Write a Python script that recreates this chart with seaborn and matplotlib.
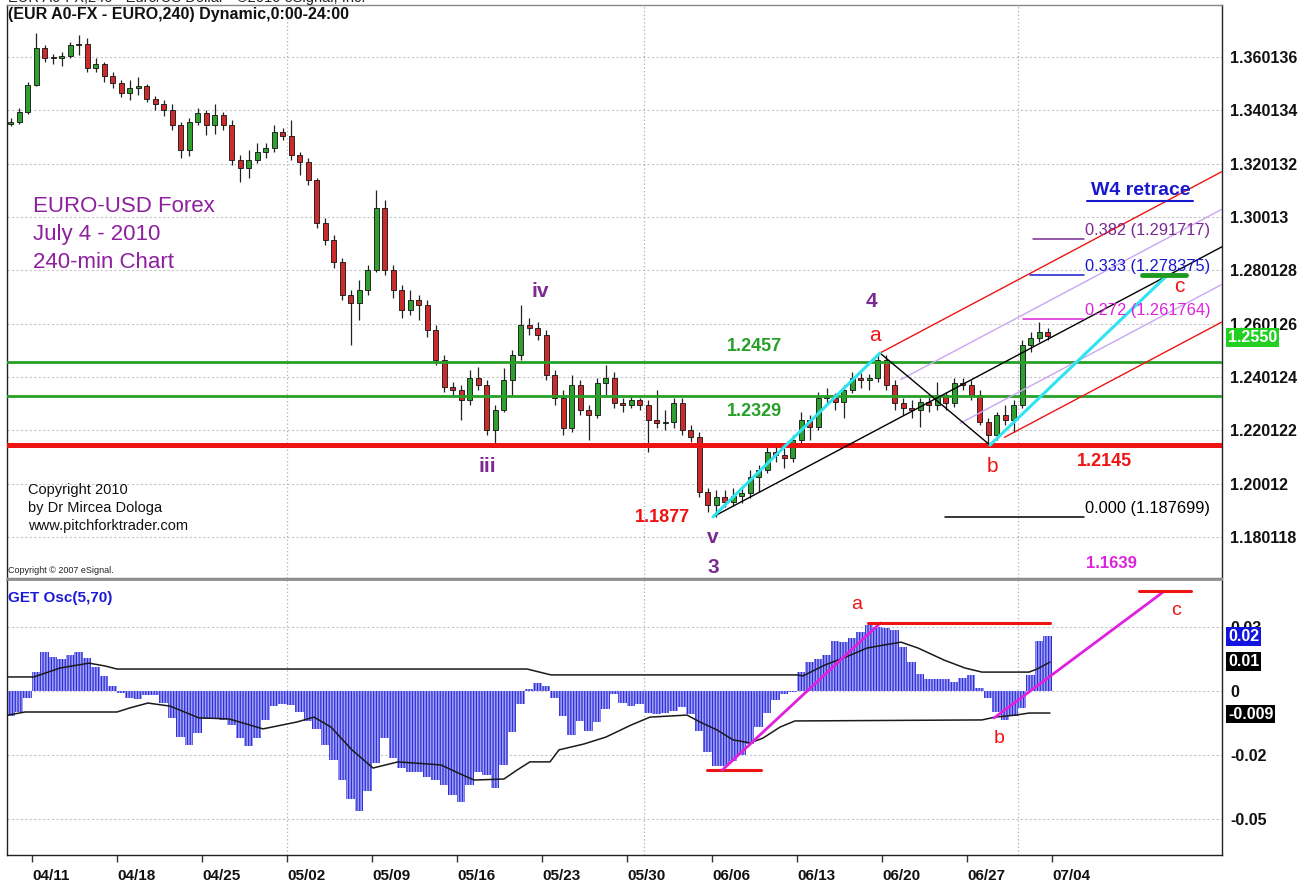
import numpy as np
import matplotlib
matplotlib.use("Agg")
import matplotlib.pyplot as plt
import seaborn as sns

# ---------------- data ----------------
week_labels = ['04/11', '04/18', '04/25', '05/02', '05/09', '05/16', '05/23',
               '05/30', '06/06', '06/13', '06/20', '06/27', '07/04']

open_ = [1.3350, 1.3358, 1.3395, 1.3496, 1.3635, 1.3598, 1.3598, 1.3605, 1.3646, 1.3650,
         1.3560, 1.3575, 1.3530, 1.3504, 1.3466, 1.3485, 1.3493, 1.3444, 1.3425, 1.3403,
         1.3346, 1.3253, 1.3358, 1.3391, 1.3346, 1.3384, 1.3346, 1.3215, 1.3185, 1.3215,
         1.3245, 1.3260, 1.3320, 1.3305, 1.3234, 1.3208, 1.3140, 1.2979, 1.2915, 1.2833,
         1.2709, 1.2679, 1.2728, 1.2803, 1.3035, 1.2803, 1.2728, 1.2653, 1.2690, 1.2671,
         1.2578, 1.2465, 1.2364, 1.2353, 1.2315, 1.2398, 1.2371, 1.2203, 1.2278, 1.2390,
         1.2484, 1.2596, 1.2585, 1.2559, 1.2409, 1.2323, 1.2210, 1.2371, 1.2278, 1.2259,
         1.2379, 1.2398, 1.2304, 1.2296, 1.2315, 1.2296, 1.2240, 1.2229, 1.2233, 1.2304,
         1.2203, 1.2176, 1.1970, 1.1921, 1.1951, 1.1933, 1.1955, 1.1966, 1.2026, 1.2053,
         1.2120, 1.2109, 1.2098, 1.2165, 1.2240, 1.2214, 1.2323, 1.2323, 1.2308, 1.2353,
         1.2398, 1.2390, 1.2398, 1.2465, 1.2371, 1.2304, 1.2285, 1.2278, 1.2308, 1.2296,
         1.2334, 1.2304, 1.2379, 1.2371, 1.2334, 1.2233, 1.2184, 1.2259, 1.2240, 1.2296,
         1.2521, 1.2548, 1.2570]
high = [1.3373, 1.3410, 1.3508, 1.3691, 1.3646, 1.3613, 1.3620, 1.3658, 1.3684, 1.3673,
        1.3598, 1.3583, 1.3545, 1.3515, 1.3515, 1.3526, 1.3500, 1.3455, 1.3440, 1.3425,
        1.3358, 1.3373, 1.3410, 1.3403, 1.3425, 1.3395, 1.3365, 1.3234, 1.3253, 1.3279,
        1.3279, 1.3346, 1.3335, 1.3365, 1.3245, 1.3223, 1.3148, 1.2998, 1.2934, 1.2848,
        1.2728, 1.2765, 1.2821, 1.3103, 1.3065, 1.2821, 1.2746, 1.2728, 1.2709, 1.2690,
        1.2596, 1.2484, 1.2383, 1.2371, 1.2428, 1.2439, 1.2390, 1.2296, 1.2435, 1.2503,
        1.2671, 1.2623, 1.2608, 1.2578, 1.2428, 1.2353, 1.2409, 1.2390, 1.2296, 1.2398,
        1.2446, 1.2420, 1.2323, 1.2334, 1.2323, 1.2315, 1.2353, 1.2278, 1.2323, 1.2323,
        1.2221, 1.2195, 1.1985, 1.1978, 1.1978, 1.1985, 1.1993, 1.2053, 1.2071, 1.2146,
        1.2146, 1.2135, 1.2184, 1.2270, 1.2259, 1.2345, 1.2360, 1.2341, 1.2371, 1.2420,
        1.2416, 1.2413, 1.2491, 1.2484, 1.2390, 1.2323, 1.2315, 1.2323, 1.2330, 1.2383,
        1.2345, 1.2398, 1.2398, 1.2390, 1.2353, 1.2248, 1.2270, 1.2296, 1.2315, 1.2540,
        1.2570, 1.2608, 1.2585]
low = [1.3343, 1.3350, 1.3388, 1.3493, 1.3583, 1.3575, 1.3568, 1.3598, 1.3609, 1.3545,
       1.3545, 1.3508, 1.3485, 1.3451, 1.3440, 1.3459, 1.3433, 1.3403, 1.3380, 1.3328,
       1.3223, 1.3230, 1.3346, 1.3309, 1.3313, 1.3328, 1.3196, 1.3133, 1.3148, 1.3204,
       1.3223, 1.3245, 1.3290, 1.3215, 1.3159, 1.3121, 1.2960, 1.2896, 1.2810, 1.2690,
       1.2521, 1.2615, 1.2709, 1.2795, 1.2784, 1.2698, 1.2623, 1.2634, 1.2615, 1.2551,
       1.2446, 1.2345, 1.2334, 1.2240, 1.2296, 1.2353, 1.2184, 1.2146, 1.2270, 1.2334,
       1.2465, 1.2559, 1.2540, 1.2390, 1.2296, 1.2184, 1.2195, 1.2259, 1.2165, 1.2248,
       1.2334, 1.2285, 1.2270, 1.2285, 1.2278, 1.2120, 1.2210, 1.2203, 1.2210, 1.2184,
       1.2158, 1.1951, 1.1895, 1.1876, 1.1914, 1.1918, 1.1929, 1.1948, 1.1970, 1.2041,
       1.2083, 1.2060, 1.2083, 1.2146, 1.2165, 1.2203, 1.2296, 1.2278, 1.2248, 1.2341,
       1.2360, 1.2353, 1.2383, 1.2353, 1.2278, 1.2259, 1.2248, 1.2214, 1.2270, 1.2278,
       1.2278, 1.2289, 1.2353, 1.2315, 1.2221, 1.2154, 1.2165, 1.2221, 1.2195, 1.2285,
       1.2495, 1.2533, 1.2540]
close = [1.3358, 1.3395, 1.3496, 1.3635, 1.3598, 1.3598, 1.3605, 1.3646, 1.3650, 1.3560,
         1.3575, 1.3530, 1.3504, 1.3466, 1.3485, 1.3493, 1.3444, 1.3425, 1.3403, 1.3346,
         1.3253, 1.3358, 1.3391, 1.3346, 1.3384, 1.3346, 1.3215, 1.3185, 1.3215, 1.3245,
         1.3260, 1.3320, 1.3305, 1.3234, 1.3208, 1.3140, 1.2979, 1.2915, 1.2833, 1.2709,
         1.2679, 1.2728, 1.2803, 1.3035, 1.2803, 1.2728, 1.2653, 1.2690, 1.2671, 1.2578,
         1.2465, 1.2364, 1.2353, 1.2315, 1.2398, 1.2371, 1.2203, 1.2278, 1.2390, 1.2484,
         1.2596, 1.2585, 1.2559, 1.2409, 1.2323, 1.2210, 1.2371, 1.2278, 1.2259, 1.2379,
         1.2398, 1.2304, 1.2296, 1.2315, 1.2296, 1.2240, 1.2229, 1.2233, 1.2304, 1.2203,
         1.2176, 1.1970, 1.1921, 1.1951, 1.1933, 1.1955, 1.1966, 1.2026, 1.2053, 1.2120,
         1.2109, 1.2098, 1.2165, 1.2240, 1.2214, 1.2323, 1.2323, 1.2308, 1.2353, 1.2398,
         1.2390, 1.2398, 1.2465, 1.2371, 1.2304, 1.2285, 1.2278, 1.2308, 1.2296, 1.2334,
         1.2304, 1.2379, 1.2371, 1.2334, 1.2233, 1.2184, 1.2259, 1.2240, 1.2296, 1.2521,
         1.2548, 1.2570, 1.2555]

osc = [-0.0098, -0.0082, -0.0027, 0.0074, 0.0152, 0.0133, 0.0125, 0.0141, 0.0152, 0.0129,
       0.0094, 0.0059, 0.0020, -0.0008, -0.0027, -0.0031, -0.0016, -0.0016, -0.0047, -0.0105,
       -0.0180, -0.0211, -0.0164, -0.0109, -0.0105, -0.0113, -0.0133, -0.0184, -0.0215, -0.0184,
       -0.0113, -0.0059, -0.0051, -0.0055, -0.0082, -0.0117, -0.0148, -0.0211, -0.0270, -0.0348,
       -0.0422, -0.0469, -0.0391, -0.0281, -0.0184, -0.0262, -0.0301, -0.0316, -0.0316, -0.0336,
       -0.0348, -0.0367, -0.0406, -0.0434, -0.0367, -0.0316, -0.0328, -0.0379, -0.0289, -0.0160,
       -0.0051, 0.0008, 0.0031, 0.0020, -0.0027, -0.0098, -0.0172, -0.0117, -0.0156, -0.0121,
       -0.0070, -0.0012, -0.0047, -0.0059, -0.0051, -0.0086, -0.0090, -0.0086, -0.0078, -0.0062,
       -0.0090, -0.0156, -0.0238, -0.0293, -0.0293, -0.0273, -0.0250, -0.0207, -0.0141, -0.0086,
       -0.0035, -0.0012, -0.0004, 0.0074, 0.0113, 0.0125, 0.0141, 0.0195, 0.0191, 0.0207,
       0.0230, 0.0258, 0.0250, 0.0246, 0.0238, 0.0172, 0.0113, 0.0066, 0.0047, 0.0047,
       0.0047, 0.0035, 0.0051, 0.0063, 0.0012, -0.0027, -0.0082, -0.0113, -0.0098, -0.0066,
       0.0063, 0.0195, 0.0215]

upper_days = [-1.41, 0.12, 1.65, 3.35, 4.29, 5.0, 29.12, 30.53, 45.0, 45.35, 46.65,
              47.88, 49.12, 50.12, 51.12, 52.12, 53.65, 54.88, 55.88, 58.65, 59.12, 59.88]
upper_vals = [0.0055, 0.0055, 0.0090, 0.0109, 0.0098, 0.0086, 0.0086, 0.0063, 0.0063, 0.0059,
              0.0102, 0.0133, 0.0168, 0.0180, 0.0191, 0.0168, 0.0121, 0.0090, 0.0074, 0.0074,
              0.0086, 0.0113]
lower_days = [-1.41, -0.41, 5.0, 5.76, 6.82, 8.12, 9.82, 11.59, 13.59, 15.59, 16.59, 17.59,
              18.82, 20.06, 21.53, 24.06, 25.06, 26.0, 27.76, 28.53, 29.29, 30.47, 31.0,
              32.47, 33.76, 35.24, 36.35, 38.53, 39.29, 40.29, 41.24, 42.24, 43.0, 44.0,
              44.88, 55.88, 56.65, 57.88, 58.65, 59.88]
lower_vals = [-0.0094, -0.0082, -0.0082, -0.0066, -0.0047, -0.0059, -0.0105, -0.0109,
              -0.0148, -0.0121, -0.0102, -0.0141, -0.0230, -0.0301, -0.0277, -0.0289,
              -0.0320, -0.0348, -0.0344, -0.0309, -0.0277, -0.0277, -0.0230, -0.0207,
              -0.0180, -0.0133, -0.0102, -0.0094, -0.0121, -0.0152, -0.0191, -0.0203,
              -0.0184, -0.0141, -0.0117, -0.0113, -0.0102, -0.0094, -0.0086, -0.0086]

price_ticks = [1.360136, 1.340134, 1.320132, 1.30013, 1.280128, 1.260126, 1.240124,
               1.220122, 1.20012, 1.180118]
price_tick_labels = ['1.360136', '1.340134', '1.320132', '1.30013', '1.280128', '1.260126',
                     '1.240124', '1.220122', '1.20012', '1.180118']
osc_ticks = [0.025, 0.0, -0.025, -0.05]
osc_tick_labels = ['0.03', '0', '-0.02', '-0.05']

support_levels = [1.2457, 1.2329]
key_level = 1.2145
fib_levels = [0.382, 0.333, 0.272, 0.000]
fib_prices = [1.291717, 1.278375, 1.261764, 1.187699]
pivot_v = (40.06, 1.1877)
pivot_a = (49.88, 1.2491)
pivot_b = (56.35, 1.2146)
target_c = (66.8, 1.278375)

# ---------------- style ----------------
sns.set_theme(style="white")
plt.rcParams['font.family'] = ['Liberation Sans', 'DejaVu Sans']
plt.rcParams['hatch.linewidth'] = 0.9

W, H = 1313, 896
fig = plt.figure(figsize=(W / 100, H / 100), dpi=100)
fig.patch.set_facecolor('white')
ax = fig.add_axes([7 / W, 1 - 578 / H, 1215 / W, 573 / H])
axo = fig.add_axes([7 / W, 1 - 855 / H, 1215 / W, 275 / H])

XMIN, XMAX = -1.47, 70.0
days = np.arange(-1.25, 60.0, 0.5)

GREEN = '#27a027'
RED = '#ee1414'
PURPLE = '#7b2a92'
MAG = '#dd22dd'
BLUE = '#1818d0'
CYAN = '#2fe3f0'
LAV = '#c9a6f2'

# ---------------- price panel ----------------
ax.set_xlim(XMIN, XMAX)
ax.set_ylim(1.16475, 1.3796)
for p in price_ticks:
    ax.axhline(p, color='#c4c4c4', ls=(0, (2, 2)), lw=0.8, zorder=0)
for d in [15, 36, 58]:
    ax.axvline(d, color='#b0b0b0', ls=(0, (1, 2)), lw=0.9, zorder=0)

o = np.array(open_); h = np.array(high); l = np.array(low); c = np.array(close)
up = c >= o
cols = np.where(up, '#2f9f2f', '#cc2b2b')
ax.vlines(days, l, h, color='#222222', lw=0.9, zorder=3)
ax.bar(days, np.maximum(np.abs(c - o), 0.00025), bottom=np.minimum(o, c), width=0.3,
       color=cols, edgecolor='#111111', linewidth=0.6, zorder=4)

for lv in support_levels:
    ax.axhline(lv, color=GREEN, lw=2.0, zorder=5)
ax.axhline(key_level, color=RED, lw=3.6, zorder=5)

# pitchfork
mid = ((pivot_a[0] + pivot_b[0]) / 2, (pivot_a[1] + pivot_b[1]) / 2)
slope = (mid[1] - pivot_v[1]) / (mid[0] - pivot_v[0])


def line_from(x0, y0, x1):
    return [x0, x1], [y0, y0 + slope * (x1 - x0)]


def median_at(x):
    return pivot_v[1] + slope * (x - pivot_v[0])


ax.plot(*line_from(pivot_v[0], pivot_v[1], XMAX), color='black', lw=1.0, zorder=6)
ax.plot(*line_from(pivot_a[0], pivot_a[1], XMAX), color=RED, lw=1.0, zorder=6)
xb0 = 57.2
ax.plot(*line_from(xb0, pivot_b[1] + slope * (xb0 - pivot_b[0]), XMAX), color=RED, lw=1.0, zorder=6)
xq1 = 51.1
q1 = (pivot_a[1] + slope * (xq1 - pivot_a[0]) + median_at(xq1)) / 2
ax.plot(*line_from(xq1, q1, XMAX), color=LAV, lw=1.0, zorder=6)
xq2 = 54.6
q2 = (pivot_b[1] + slope * (xq2 - pivot_b[0]) + median_at(xq2)) / 2
ax.plot(*line_from(xq2, q2, XMAX), color=LAV, lw=1.0, zorder=6)
ax.plot([pivot_a[0], pivot_b[0]], [pivot_a[1], pivot_b[1]], color='black', lw=1.0, zorder=6)

# cyan projections
ax.plot([pivot_v[0], pivot_a[0]], [pivot_v[1], pivot_a[1]], color=CYAN, lw=2.2, zorder=7)
ax.plot([pivot_b[0], target_c[0]], [pivot_b[1], target_c[1]], color=CYAN, lw=2.2, zorder=7)
ax.plot([65.3, 67.9], [target_c[1], target_c[1]], color='#1f9a1f', lw=3.5, zorder=7)

# fib retrace levels
fib_cols = [PURPLE, BLUE, MAG, 'black']
fib_starts = [58.9, 58.7, 58.3, 53.7]
for lvl, pr, colr, xs in zip(fib_levels, fib_prices, fib_cols, fib_starts):
    ax.plot([xs, 61.9], [pr, pr], color=colr, lw=1.1, zorder=7)
    ax.text(61.95, pr + 0.0004, f"{lvl:.3f} ({pr:.6f})", color=colr, fontsize=11.8,
            ha='left', va='bottom', zorder=8)
ax.text(65.2, 1.3102, 'W4 retrace', color=BLUE, fontsize=14, fontweight='bold',
        ha='center', va='center', zorder=8)
ax.plot([62.05, 68.3], [1.3061, 1.3061], color=BLUE, lw=1.5, zorder=8)
ax.text(63.5, 1.1700, '1.1639', color=MAG, fontsize=12, fontweight='bold', ha='center', va='center')

# value labels
ax.text(42.5, 1.2514, '1.2457', color=GREEN, fontsize=13, fontweight='bold', ha='center', va='center', zorder=8)
ax.text(42.5, 1.2270, '1.2329', color=GREEN, fontsize=13, fontweight='bold', ha='center', va='center', zorder=8)
ax.text(63.1, 1.2083, '1.2145', color=RED, fontsize=13, fontweight='bold', ha='center', va='center', zorder=8)
ax.text(37.1, 1.1876, '1.1877', color=RED, fontsize=13, fontweight='bold', ha='center', va='center', zorder=8)

# wave labels
for txt, x, y in [('iii', 26.8, 1.2064), ('iv', 29.9, 1.2720), ('v', 40.06, 1.1798),
                  ('3', 40.06, 1.1685), ('4', 49.4, 1.2683)]:
    ax.text(x, y, txt, color=PURPLE, fontsize=15, fontweight='bold', ha='center', va='center', zorder=8)
for txt, x, y in [('a', 49.6, 1.2555), ('b', 56.5, 1.2064), ('c', 67.5, 1.2739)]:
    ax.text(x, y, txt, color=RED, fontsize=15, ha='center', va='center', zorder=8)

# info texts
for txt, y in [('EURO-USD Forex', 1.3039), ('July 4 - 2010', 1.2934), ('240-min Chart', 1.2829)]:
    ax.text(0.06, y, txt, color='#8e1f9e', fontsize=16, ha='left', va='center', zorder=8)
for txt, y in [('Copyright 2010', 1.1978), ('by Dr Mircea Dologa', 1.1910),
               ('www.pitchforktrader.com', 1.1843)]:
    ax.text(-0.24, y, txt, color='#111111', fontsize=10.5, ha='left', va='center', zorder=8)
ax.text(-1.41, 1.1674, 'Copyright \u00a9 2007 eSignal.', color='#222222', fontsize=6.5,
        ha='left', va='center', zorder=8)

# axes cosmetics (price)
ax.yaxis.tick_right()
ax.set_yticks(price_ticks)
ax.set_yticklabels(price_tick_labels, fontsize=11.5, fontweight='bold', color='#111111')
ax.tick_params(axis='y', length=0, pad=6)
ax.tick_params(axis='x', bottom=False, labelbottom=False)
for s in ['left', 'right']:
    ax.spines[s].set_color('#222222'); ax.spines[s].set_linewidth(1.0)
for s in ['top', 'bottom']:
    ax.spines[s].set_color('#888888'); ax.spines[s].set_linewidth(1.0)
ax.text(1.005, 1.2550, '1.2550', transform=ax.get_yaxis_transform(), color='white',
        fontsize=11.5, fontweight='bold', ha='left', va='center',
        bbox=dict(boxstyle='square,pad=0.12', fc='#22d022', ec='none'), zorder=9)

# ---------------- oscillator panel ----------------
axo.set_xlim(XMIN, XMAX)
axo.set_ylim(-0.0641, 0.0434)
for v in osc_ticks:
    axo.axhline(v, color='#c4c4c4', ls=(0, (2, 2)), lw=0.8, zorder=0)
for d in [15, 36, 58]:
    axo.axvline(d, color='#b0b0b0', ls=(0, (1, 2)), lw=0.9, zorder=0)

axo.bar(days, osc, width=0.5, color='#a3a3f6', edgecolor='#2f2fd8', linewidth=0,
        hatch='||||||', zorder=2)
sns.lineplot(x=upper_days, y=upper_vals, ax=axo, color='#1a1a1a', lw=1.1, legend=False, zorder=4)
sns.lineplot(x=lower_days, y=lower_vals, ax=axo, color='#1a1a1a', lw=1.1, legend=False, zorder=4)

axo.plot([39.7, 42.9], [-0.0309, -0.0309], color=RED, lw=2.2, zorder=5)
axo.plot([40.6, 49.9], [-0.0309, 0.0266], color='#e020e0', lw=2.0, zorder=5)
axo.plot([49.2, 59.9], [0.0266, 0.0266], color=RED, lw=2.2, zorder=5)
axo.plot([56.6, 66.6], [-0.0105, 0.0390], color='#e020e0', lw=2.0, zorder=5)
axo.plot([65.1, 68.2], [0.0390, 0.0390], color=RED, lw=2.2, zorder=5)
axo.text(48.5, 0.0340, 'a', color=RED, fontsize=14, ha='center', va='center')
axo.text(56.9, -0.0184, 'b', color=RED, fontsize=14, ha='center', va='center')
axo.text(67.3, 0.0316, 'c', color=RED, fontsize=14, ha='center', va='center')

axo.yaxis.tick_right()
axo.set_yticks(osc_ticks)
axo.set_yticklabels(osc_tick_labels, fontsize=11.5, fontweight='bold', color='#111111')
axo.tick_params(axis='y', length=0, pad=6)
axo.set_xticks(np.arange(0, 61, 5))
axo.set_xticklabels(week_labels, fontsize=11, fontweight='bold', color='#111111')
for lbl in axo.get_xticklabels():
    lbl.set_horizontalalignment('left')
axo.tick_params(axis='x', direction='out', length=5, width=1, color='#333333', pad=5, bottom=True)
for s in ['left', 'right', 'bottom']:
    axo.spines[s].set_color('#222222'); axo.spines[s].set_linewidth(1.0)
axo.spines['top'].set_color('#888888')
axo.set_xlabel(''); axo.set_ylabel('')

tr = axo.get_yaxis_transform()
axo.text(1.005, 0.0212, '0.02', transform=tr, color='white', fontsize=11.5, fontweight='bold',
         ha='left', va='center', bbox=dict(boxstyle='square,pad=0.12', fc='#1414e0', ec='none'), zorder=9)
axo.text(1.005, 0.0117, '0.01', transform=tr, color='white', fontsize=11.5, fontweight='bold',
         ha='left', va='center', bbox=dict(boxstyle='square,pad=0.12', fc='black', ec='none'), zorder=9)
axo.text(1.005, -0.0090, '-0.009', transform=tr, color='white', fontsize=11.5, fontweight='bold',
         ha='left', va='center', bbox=dict(boxstyle='square,pad=0.12', fc='black', ec='none'), zorder=9)

# ---------------- header texts ----------------
fig.text(8 / W, 1 + 2 / H, 'EUR A0-FX,240 - Euro/US Dollar - \u00a92010 eSignal, Inc.',
         fontsize=10.5, color='#222222', ha='left', va='center')
fig.text(8 / W, 1 - 15 / H, '(EUR A0-FX - EURO,240) Dynamic,0:00-24:00', fontsize=11.5,
         fontweight='bold', color='#111111', ha='left', va='center')
fig.text(8 / W, 1 - 598 / H, 'GET Osc(5,70)', fontsize=11, fontweight='bold',
         color='#1a1ad8', ha='left', va='center')

fig.savefig('out.png', dpi=100)
